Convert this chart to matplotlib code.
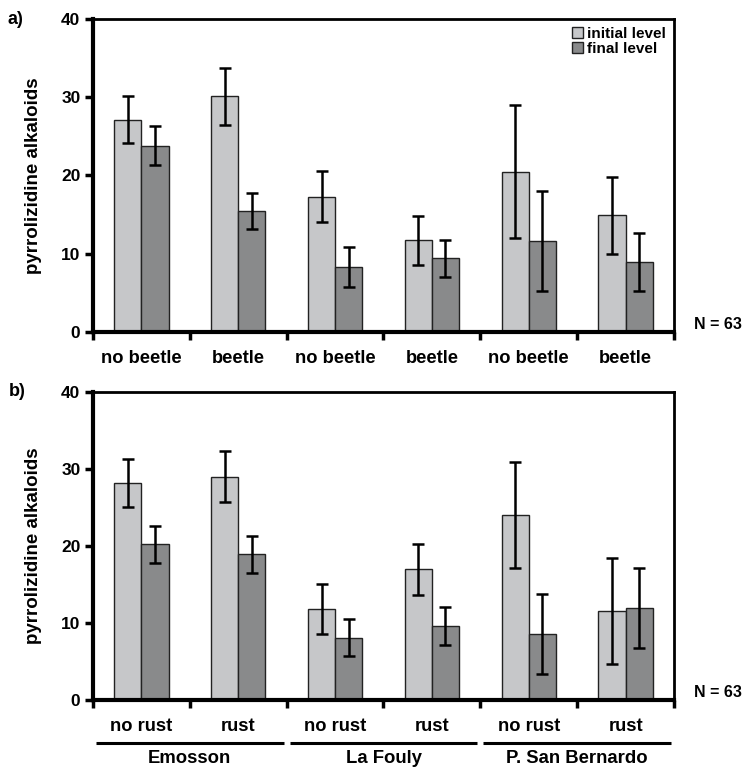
import numpy as np
import matplotlib.pyplot as plt
from matplotlib.patches import Patch
from matplotlib.transforms import blended_transform_factory

plt.rcParams['font.family'] = ['Liberation Sans', 'DejaVu Sans']
plt.rcParams['font.weight'] = 'bold'

# panel a: beetle treatment
beetle_labels = ["no beetle", "beetle", "no beetle", "beetle", "no beetle", "beetle"]
beetle_initial = [27.1, 30.1, 17.3, 11.7, 20.5, 14.9]
beetle_initial_err = [3.0, 3.6, 3.3, 3.1, 8.5, 4.9]
beetle_final = [23.8, 15.4, 8.3, 9.4, 11.6, 8.9]
beetle_final_err = [2.5, 2.3, 2.5, 2.4, 6.4, 3.7]

# panel b: rust treatment
rust_labels = ["no rust", "rust", "no rust", "rust", "no rust", "rust"]
rust_initial = [28.2, 29.0, 11.8, 17.0, 24.0, 11.6]
rust_initial_err = [3.1, 3.3, 3.2, 3.3, 6.9, 6.9]
rust_final = [20.2, 18.9, 8.1, 9.6, 8.6, 11.9]
rust_final_err = [2.45, 2.4, 2.4, 2.5, 5.2, 5.2]

sites = ["Emosson", "La Fouly", "P. San Bernardo"]
n_plants = 63

light = '#c6c7c9'
dark = '#898a8b'
bw = 0.28

fig = plt.figure(figsize=(7.54, 7.69), dpi=100)
ax_a = fig.add_axes([0.1233, 0.5683, 0.7706, 0.407])
ax_b = fig.add_axes([0.1233, 0.0897, 0.7706, 0.4006])


def draw_panel(ax, labels, init, init_err, fin, fin_err):
    x = np.arange(len(labels))
    ekw = dict(ecolor='black', elinewidth=1.8, capsize=4.5, capthick=1.8)
    ax.bar(x - bw / 2, init, bw, color=light, edgecolor='#222222', linewidth=1.0,
           yerr=init_err, error_kw=ekw, label='initial level', zorder=2)
    ax.bar(x + bw / 2, fin, bw, color=dark, edgecolor='#222222', linewidth=1.0,
           yerr=fin_err, error_kw=ekw, label='final level', zorder=2)
    ax.set_xlim(-0.5, len(labels) - 0.5)
    ax.set_ylim(0, 40)
    ax.set_yticks([0, 10, 20, 30, 40])
    ax.tick_params(axis='y', direction='out', length=6, width=2.5, labelsize=12.5, pad=3)
    # boundaries between categories get the ticks, the names sit in between
    ax.set_xticks(np.arange(-0.5, len(labels), 1.0))
    ax.set_xticklabels([])
    ax.set_xticks(x, minor=True)
    ax.set_xticklabels(labels, minor=True, fontsize=13.2)
    ax.tick_params(axis='x', which='major', direction='out', length=6, width=2.5)
    ax.tick_params(axis='x', which='minor', length=0, pad=13)
    ax.spines['left'].set_linewidth(3)
    ax.spines['bottom'].set_linewidth(3)
    ax.spines['top'].set_linewidth(2)
    ax.spines['right'].set_linewidth(2)
    ax.set_ylabel('pyrrolizidine alkaloids', fontsize=13.5, fontweight='bold', labelpad=14)
    ax.text(1.035, 0.0, 'N = %d' % n_plants, transform=ax.transAxes,
            fontsize=11.5, ha='left', va='bottom')


draw_panel(ax_a, beetle_labels, beetle_initial, beetle_initial_err, beetle_final, beetle_final_err)
draw_panel(ax_b, rust_labels, rust_initial, rust_initial_err, rust_final, rust_final_err)

fig.text(0.01, 0.975, 'a)', fontsize=13, ha='left', va='center')
fig.text(0.012, 0.491, 'b)', fontsize=13, ha='left', va='center')

handles = [Patch(facecolor=light, edgecolor='#222222', label='initial level'),
           Patch(facecolor=dark, edgecolor='#222222', label='final level')]
ax_a.legend(handles=handles, loc='upper right', frameon=False, fontsize=11,
            handlelength=0.7, handleheight=0.7, handletextpad=0.3,
            labelspacing=0.1, borderaxespad=0.1)

# site names under pairs of categories in panel b
trans = blended_transform_factory(ax_b.transData, ax_b.transAxes)
for i, site in enumerate(sites):
    left = 2 * i - 0.5 + 0.03
    right = 2 * i + 1.5 - 0.03
    ax_b.plot([left, right], [-0.14, -0.14], transform=trans, color='black',
              linewidth=2.2, clip_on=False, solid_capstyle='butt')
    ax_b.text(2 * i + 0.5, -0.19, site, transform=trans, ha='center', va='center',
              fontsize=13.3)

fig.savefig('out.png', dpi=100)
